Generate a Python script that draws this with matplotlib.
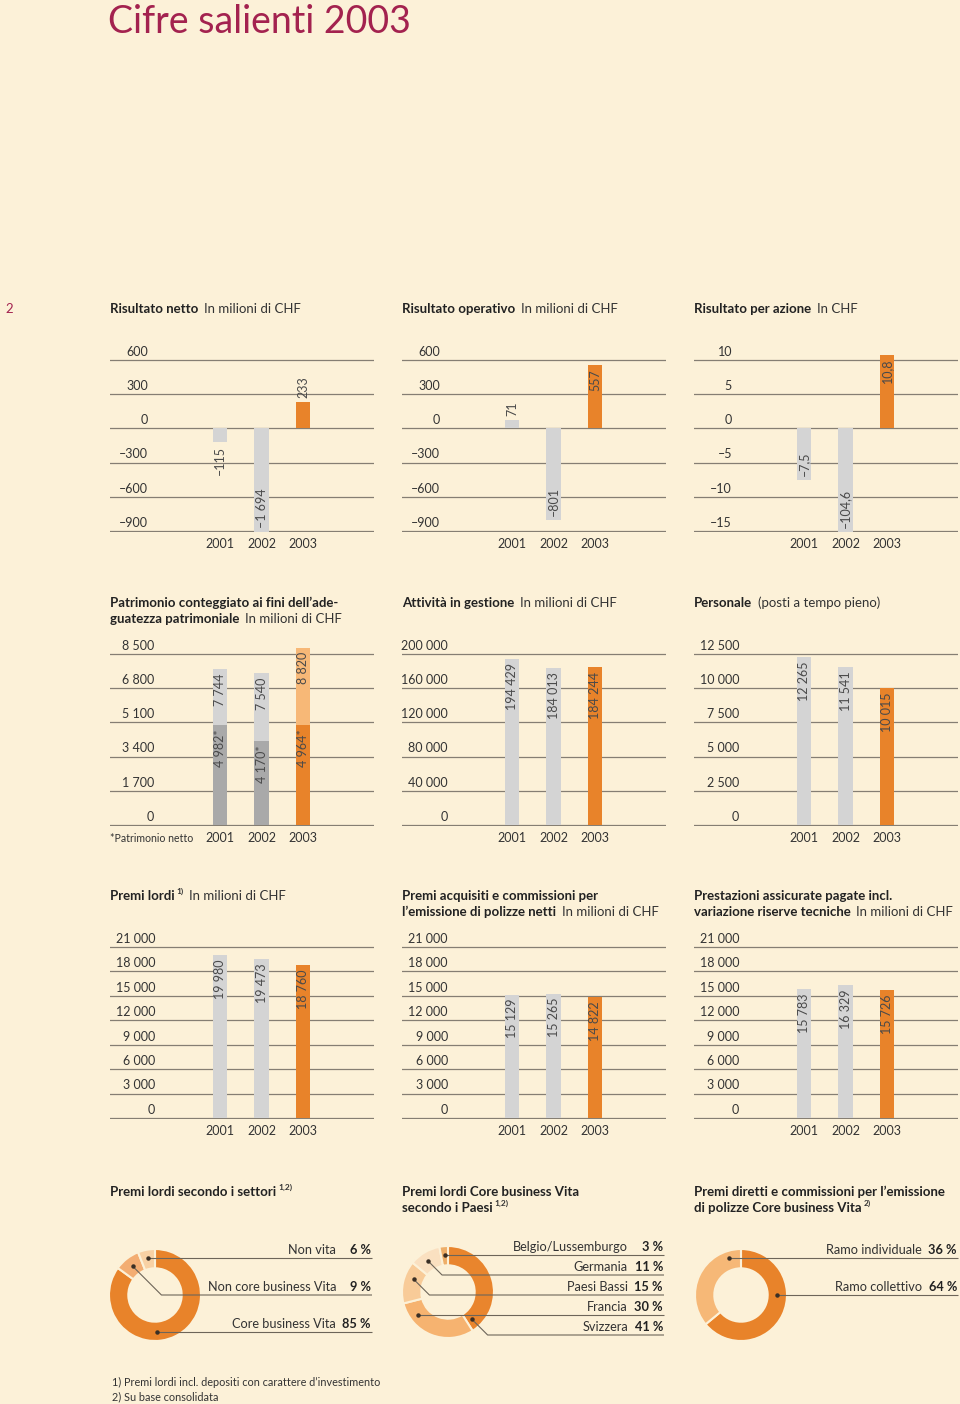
import math
import matplotlib.pyplot as plt

plt.rcParams['font.family'] = ['Lato', 'DejaVu Sans']

W, H = 960, 1404
BG = '#fcf1d8'
ORANGE = '#e8832a'
LORANGE = '#f7b877'
GRAY = '#d4d4d4'
DGRAY = '#a9a9a9'
GRID = '#857e73'
TXT = '#333333'
RED = '#a3224f'
LINE = '#6d6559'

years = ['2001', '2002', '2003']

# row 1
netto = [-115, -1694, 233]
operativo = [71, -801, 557]
per_azione = [-7.5, -104.6, 10.8]
ticks_netto = [-900, -600, -300, 0, 300, 600]
ticks_oper = [-900, -600, -300, 0, 300, 600]
ticks_azione = [-15, -10, -5, 0, 5, 10]

# row 2
patr_netto = [4982, 4170, 4964]
patr_totale = [7744, 7540, 8820]
attivita = [194429, 184013, 184244]
personale = [12265, 11541, 10015]
ticks_patr = [0, 1700, 3400, 5100, 6800, 8500]
ticks_att = [0, 40000, 80000, 120000, 160000, 200000]
ticks_pers = [0, 2500, 5000, 7500, 10000, 12500]

# row 3
premi_lordi = [19980, 19473, 18760]
premi_netti = [15129, 15265, 14822]
prestazioni = [15783, 16329, 15726]
ticks_premi = [0, 3000, 6000, 9000, 12000, 15000, 18000, 21000]

# donuts (clockwise from the top)
settori = ['Core business Vita', 'Non core business Vita', 'Non vita']
settori_pct = [85, 9, 6]
paesi = ['Svizzera', 'Francia', 'Paesi Bassi', 'Germania', 'Belgio/Lussemburgo']
paesi_pct = [41, 30, 15, 11, 3]
rami = ['Ramo collettivo', 'Ramo individuale']
rami_pct = [64, 36]


def fmt(v):
    s = f'{abs(v):,.1f}' if isinstance(v, float) else f'{abs(v):,}'
    s = s.replace(',', ' ').replace('.', ',')
    return ('–' if v < 0 else '') + s


fig = plt.figure(figsize=(W / 100, H / 100), dpi=100, facecolor=BG)
bg = fig.add_axes([0, 0, 1, 1], zorder=-1)
bg.set_xlim(0, W)
bg.set_ylim(H, 0)
bg.axis('off')


def px_axes(x, y, w, h):
    ax = fig.add_axes([x / W, 1 - (y + h) / H, w / W, h / H])
    ax.set_facecolor('none')
    return ax


def bar_panel(x0, grid_top, grid_bot, ticks, lab_right=38):
    head = 14
    units = (ticks[-1] - ticks[0]) / (grid_bot - grid_top)
    ax = px_axes(x0, grid_top - head, 264, grid_bot - grid_top + head + 1)
    ax.set_xlim(-110 / 41.5, 154 / 41.5)
    ax.set_ylim(ticks[0] - 1 * units, ticks[-1] + head * units)
    for s in ax.spines.values():
        s.set_visible(False)
    ax.set_yticks(ticks)
    ax.yaxis.grid(True, color=GRID, lw=0.9)
    ax.set_axisbelow(True)
    ax.tick_params(axis='y', length=0, labelleft=False)
    ax.set_xticks(range(3), years)
    ax.tick_params(axis='x', length=0, pad=4, labelsize=9, labelcolor=TXT)
    for t in ticks:
        ax.annotate(fmt(t), xy=(lab_right / 264, t), xycoords=('axes fraction', 'data'),
                    xytext=(0, 3), textcoords='offset points', ha='right',
                    va='baseline', fontsize=9, color=TXT, annotation_clip=False)
    return ax


def bar_label(ax, x, start, end, text, where):
    lo, hi = ax.get_ylim()
    end_c = min(max(end, lo), hi)
    up = end >= start
    if where == 'in':
        dy, va = (-3, 'top') if up else (3, 'bottom')
    else:
        dy, va = (3, 'bottom') if up else (-3, 'top')
    ax.annotate(text, xy=(x, end_c), xytext=(0, dy), textcoords='offset points',
                rotation=90, ha='center', va=va, fontsize=9, color='#4a4a4a')


def simple_bars(ax, vals, places):
    ax.bar(range(3), vals, width=0.36, color=[GRAY, GRAY, ORANGE])
    for i, v in enumerate(vals):
        bar_label(ax, i, 0, v, fmt(v), places[i])


cols = [110, 402, 694]

# row 1
ax = bar_panel(cols[0], 360, 531, ticks_netto)
simple_bars(ax, netto, ['out', 'in', 'out'])
ax = bar_panel(cols[1], 360, 531, ticks_oper)
simple_bars(ax, operativo, ['out', 'in', 'in'])
ax = bar_panel(cols[2], 360, 531, ticks_azione)
simple_bars(ax, per_azione, ['in', 'in', 'in'])

# row 2
ax = bar_panel(cols[0], 654, 825, ticks_patr, 44)
top_part = [t - n for t, n in zip(patr_totale, patr_netto)]
ax.bar(range(3), patr_netto, width=0.36, color=[DGRAY, DGRAY, ORANGE])
ax.bar(range(3), top_part, bottom=patr_netto, width=0.36, color=[GRAY, GRAY, LORANGE])
for i in range(3):
    bar_label(ax, i, 0, patr_netto[i], fmt(patr_netto[i]) + '*', 'in')
    bar_label(ax, i, patr_netto[i], patr_totale[i], fmt(patr_totale[i]), 'in')
ax = bar_panel(cols[1], 654, 825, ticks_att, 46)
simple_bars(ax, attivita, ['in'] * 3)
ax = bar_panel(cols[2], 654, 825, ticks_pers, 45)
simple_bars(ax, personale, ['in'] * 3)

# row 3
ax = bar_panel(cols[0], 947, 1118, ticks_premi, 45)
simple_bars(ax, premi_lordi, ['in'] * 3)
ax = bar_panel(cols[1], 947, 1118, ticks_premi, 46)
simple_bars(ax, premi_netti, ['in'] * 3)
ax = bar_panel(cols[2], 947, 1118, ticks_premi, 45)
simple_bars(ax, prestazioni, ['in'] * 3)


def header(x, y, parts):
    prev = None
    back = 0
    for text, kind in parts:
        kw = dict(fontsize=6 if kind == 'sup' else 9.5,
                  fontweight='normal' if kind == 'reg' else 'bold',
                  color='#222222' if kind == 'bold' else TXT)
        if prev is None:
            prev = bg.text(x, y, text, va='baseline', ha='left', **kw)
        else:
            gap = 1.5 if kind == 'sup' else 4
            dy = 5 if kind == 'sup' else -back
            prev = bg.annotate(text, xy=(1, 0), xycoords=prev, xytext=(gap, dy),
                               textcoords='offset points', va='bottom', ha='left', **kw)
            back = dy if kind == 'sup' else 0


header(110, 313, [('Risultato netto', 'bold'), ('In milioni di CHF', 'reg')])
header(402, 313, [('Risultato operativo', 'bold'), ('In milioni di CHF', 'reg')])
header(694, 313, [('Risultato per azione', 'bold'), ('In CHF', 'reg')])

header(110, 607, [('Patrimonio conteggiato ai fini dell’ade-', 'bold')])
header(110, 623, [('guatezza patrimoniale', 'bold'), ('In milioni di CHF', 'reg')])
header(402, 607, [('Attività in gestione', 'bold'), ('In milioni di CHF', 'reg')])
header(694, 607, [('Personale', 'bold'), ('(posti a tempo pieno)', 'reg')])

header(110, 900, [('Premi lordi', 'bold'), ('1)', 'sup'), ('In milioni di CHF', 'reg')])
header(402, 900, [('Premi acquisiti e commissioni per', 'bold')])
header(402, 916, [('l’emissione di polizze netti', 'bold'), ('In milioni di CHF', 'reg')])
header(694, 900, [('Prestazioni assicurate pagate incl.', 'bold')])
header(694, 916, [('variazione riserve tecniche', 'bold'), ('In milioni di CHF', 'reg')])

header(110, 1196, [('Premi lordi secondo i settori', 'bold'), ('1,2)', 'sup')])
header(402, 1196, [('Premi lordi Core business Vita', 'bold')])
header(402, 1212, [('secondo i Paesi', 'bold'), ('1,2)', 'sup')])
header(694, 1196, [('Premi diretti e commissioni per l’emissione', 'bold')])
header(694, 1212, [('di polizze Core business Vita', 'bold'), ('2)', 'sup')])

bg.text(110, 838, '*Patrimonio netto', fontsize=7.6, color=TXT, va='center', ha='left')


def donut(cx, cy, names, pcts, colors, line_ys, x_right, dot_fracs):
    R = 46
    ax = px_axes(cx - 50, cy - 50, 100, 100)
    ax.pie(pcts, colors=colors, startangle=90, counterclock=False, radius=1,
           wedgeprops=dict(width=0.42, edgecolor=BG, linewidth=1.5))
    ax.set_xlim(-50 / R, 50 / R)
    ax.set_ylim(-50 / R, 50 / R)
    ax.set_aspect('equal')
    ax.axis('off')
    total = sum(pcts)
    cum = 0
    xr = (x_right - cx) / R
    for name, p, ly_px, f in zip(names, pcts, line_ys, dot_fracs):
        a0 = 360 * cum / total
        a1 = 360 * (cum + p) / total
        cum += p
        comp = a0 + f * (a1 - a0)
        ang = math.radians(90 - comp)
        x0, y0 = 0.79 * math.cos(ang), 0.79 * math.sin(ang)
        ly = (cy - ly_px) / R
        if abs(y0 - ly) < 0.08:
            y0 = ly
            xs, ys = [x0, xr], [ly, ly]
        else:
            xs, ys = [x0, x0 + abs(y0 - ly), xr], [y0, ly, ly]
        ax.plot(xs, ys, color=LINE, lw=0.8, clip_on=False, solid_capstyle='butt')
        ax.plot([x0], [y0], 'o', ms=2.2, color='#3a2f25', clip_on=False)
        bg.text(x_right - 1, ly_px - 4, f'{p} %', fontsize=9.2, fontweight='bold',
                color='#222222', ha='right', va='baseline')
        bg.text(x_right - 36, ly_px - 4, name, fontsize=9.2, color=TXT,
                ha='right', va='baseline')


donut(155, 1295, settori, settori_pct, [ORANGE, '#f3ad72', '#f8d1a4'],
      [1332, 1295, 1258], 372, [0.58, 0.5, 0.45])
donut(448, 1292, paesi, paesi_pct, ['#e9852d', '#f6b370', '#f8cb98', '#fae0c0', '#eeae68'],
      [1335, 1315, 1295, 1275, 1255], 664, [0.94, 0.81, 0.64, 0.45, 0.5])
donut(741, 1295, rami, rami_pct, [ORANGE, '#f6b877'],
      [1295, 1258], 958, [0.39, 0.85])

bg.text(112, 1382, '1) Premi lordi incl. depositi con carattere d’investimento',
        fontsize=7.8, color=TXT, va='center')
bg.text(112, 1397, '2) Su base consolidata', fontsize=7.8, color=TXT, va='center')

bg.text(108, 33, 'Cifre salienti 2003', fontsize=27, color=RED, va='baseline', ha='left')
bg.text(5, 313, '2', fontsize=9.5, color=RED, va='baseline', ha='left')

fig.savefig('out.png', dpi=100, facecolor=BG)
